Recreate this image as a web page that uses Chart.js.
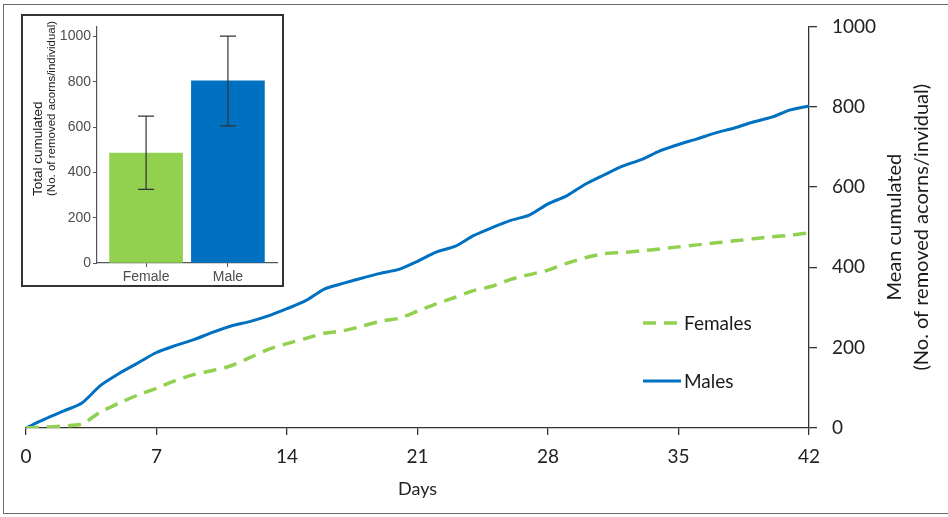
<!DOCTYPE html>
<html>
<head>
<meta charset="utf-8">
<script src="https://cdn.jsdelivr.net/npm/chart.js@4"></script>
<style>
html,body{margin:0;padding:0;background:#fff;overflow:hidden;}
#wrap{position:relative;width:948px;height:517px;}
#main{position:absolute;left:0;top:0;}
#frame{position:absolute;left:3px;top:4px;width:960px;height:510px;border:1.5px solid #6a6a6a;border-right:none;box-sizing:border-box;pointer-events:none;}
#insetBox{position:absolute;left:21px;top:14px;width:263px;height:273px;border:2px solid #333;box-sizing:border-box;background:#fff;}
#inset{position:absolute;left:0;top:0;}
</style>
</head>
<body>
<div id="wrap">
<canvas id="main" width="948" height="517"></canvas>
<div id="frame"></div>
<div id="insetBox"><canvas id="inset" width="259" height="269"></canvas></div>
</div>
<script>
// main chart data
const days = [0,1,2,3,4,5,6,7,8,9,10,11,12,13,14,15,16,17,18,19,20,21,22,23,24,25,26,27,28,29,30,31,32,33,34,35,36,37,38,39,40,41,42];
const females = [0,2,5,10,40,62,82,99,118,133,143,155,175,196,210,223,236,242,253,266,273,291,309,325,342,353,370,382,393,410,424,434,437,441,446,451,456,461,466,471,476,480,486];
const males = [0,22,42,62,106,136,162,188,205,220,238,254,265,279,297,317,346,360,373,385,395,415,438,452,479,499,517,530,558,578,607,630,652,668,690,706,720,735,747,762,774,792,802];
const dayTicks = [0,7,14,21,28,35,42];
const seriesNames = ["Females","Males"];
const yTitleMain = ["Mean cumulated","(No. of removed acorns/invidual)"];

// inset data
const sexes = ["Female","Male"];
const totals = [485,805];
const errLow = [325,606];
const errHigh = [649,1002];
const yTitleInset = ["Total cumulated","(No. of removed acorns/individual)"];

const GREEN = "#92d050";
const BLUE = "#0070c0";
const mainFont = "Lato";

function pts(ys){
  return days.map((d,i)=>({x:d,y:ys[i]}));
}

const mainDecor = {
  id:"mainDecor",
  afterDraw(chart){
    const ctx = chart.ctx;
    const a = chart.chartArea;
    // y title, reading bottom to top
    ctx.save();
    ctx.fillStyle = "#1a1a1a";
    ctx.font = "20px " + mainFont;
    ctx.textAlign = "center";
    ctx.textBaseline = "middle";
    const cy = (a.top + a.bottom)/2;
    [86,113].forEach((dx,i)=>{
      ctx.save();
      ctx.translate(a.right + dx, cy);
      ctx.rotate(-Math.PI/2);
      ctx.fillText(yTitleMain[i],0,0);
      ctx.restore();
    });
    // legend
    const lx = a.left + 617;
    const rows = [323,381];
    chart.data.datasets.forEach((ds,i)=>{
      const y = rows[i];
      ctx.strokeStyle = ds.borderColor;
      ctx.lineWidth = ds.borderWidth;
      ctx.setLineDash(ds.borderDash || []);
      ctx.beginPath();
      ctx.moveTo(lx,y);
      ctx.lineTo(lx+38,y);
      ctx.stroke();
      ctx.setLineDash([]);
      ctx.fillStyle = "#1a1a1a";
      ctx.font = "19px " + mainFont;
      ctx.textAlign = "left";
      ctx.fillText(ds.label, lx+41, y+1);
    });
    ctx.restore();
  }
};

new Chart(document.getElementById("main"),{
  type:"line",
  data:{
    datasets:[
      {label:seriesNames[0],data:pts(females),borderColor:GREEN,borderWidth:3.5,borderDash:[13,8],pointRadius:0,tension:0.25,fill:false},
      {label:seriesNames[1],data:pts(males),borderColor:BLUE,borderWidth:3,pointRadius:0,tension:0.25,fill:false}
    ]
  },
  options:{
    responsive:false,
    animation:false,
    layout:{padding:{left:26,top:24,right:49,bottom:14}},
    plugins:{legend:{display:false},tooltip:{enabled:false}},
    scales:{
      x:{
        type:"linear",min:0,max:42,
        afterBuildTicks(s){s.ticks = dayTicks.map(v=>({value:v}));},
        afterFit(s){s.height = 75;},
        grid:{drawOnChartArea:false,drawTicks:true,tickLength:7,color:"#333",lineWidth:1.3},
        border:{color:"#333",width:1.3},
        ticks:{color:"#222",font:{family:mainFont,size:19},padding:10,maxRotation:0,callback:v=>String(v)},
        title:{display:true,text:"Days",color:"#222",font:{family:mainFont,size:18},padding:{top:4,bottom:3}}
      },
      y:{
        position:"right",min:0,max:1000,
        afterFit(s){s.width = 90;},
        grid:{drawOnChartArea:false,drawTicks:true,tickLength:8,color:"#333",lineWidth:1.3},
        border:{color:"#333",width:1.3},
        ticks:{stepSize:200,color:"#222",font:{family:mainFont,size:19},padding:15,callback:v=>String(v)}
      }
    }
  },
  plugins:[mainDecor]
});

// inset bar chart with error bars
const insetDecor = {
  id:"insetDecor",
  afterDatasetsDraw(chart){
    const ctx = chart.ctx;
    const xs = chart.scales.x, ys = chart.scales.y;
    ctx.save();
    ctx.strokeStyle = "#333";
    ctx.lineWidth = 1.2;
    totals.forEach((v,i)=>{
      const x = xs.getPixelForValue(i+1);
      const yl = ys.getPixelForValue(errLow[i]);
      const yh = ys.getPixelForValue(errHigh[i]);
      ctx.beginPath();
      ctx.moveTo(x,yl);ctx.lineTo(x,yh);
      ctx.moveTo(x-8,yl);ctx.lineTo(x+8,yl);
      ctx.moveTo(x-8,yh);ctx.lineTo(x+8,yh);
      ctx.stroke();
    });
    ctx.restore();
  },
  afterDraw(chart){
    const ctx = chart.ctx;
    ctx.save();
    ctx.fillStyle = "#1a1a1a";
    ctx.textAlign = "left";
    ctx.textBaseline = "middle";
    const sizes = [13.5,11.5];
    [15,29].forEach((x,i)=>{
      ctx.save();
      ctx.font = sizes[i] + "px 'Liberation Sans'";
      ctx.translate(x,180);
      ctx.rotate(-Math.PI/2);
      ctx.fillText(yTitleInset[i],0,0);
      ctx.restore();
    });
    ctx.restore();
  }
};

new Chart(document.getElementById("inset"),{
  type:"bar",
  data:{
    datasets:[{
      data:sexes.map((s,i)=>({x:i+1,y:totals[i]})),
      backgroundColor:[GREEN,BLUE],
      barThickness:73
    }]
  },
  options:{
    responsive:false,
    animation:false,
    layout:{padding:{left:0,top:6,right:5,bottom:0}},
    plugins:{legend:{display:false},tooltip:{enabled:false}},
    scales:{
      x:{
        type:"linear",min:0.4,max:2.6,offset:false,
        afterBuildTicks(s){s.ticks = sexes.map((c,i)=>({value:i+1}));},
        afterFit(s){s.height = 22;},
        grid:{offset:false,drawOnChartArea:false,drawTicks:true,tickLength:4,color:"#555",lineWidth:1},
        border:{color:"#555",width:1.2},
        ticks:{color:"#4d4d4d",font:{family:"Liberation Sans",size:14},padding:2,
          callback(v){return sexes[v-1];}}
      },
      y:{
        min:0,max:1045,
        afterFit(s){s.width = 74;},
        grid:{drawOnChartArea:false,drawTicks:true,tickLength:4,color:"#555",lineWidth:1},
        border:{color:"#555",width:1.2},
        ticks:{stepSize:200,includeBounds:false,color:"#4d4d4d",font:{family:"Liberation Sans",size:14},padding:2,callback:v=>String(v)}
      }
    }
  },
  plugins:[insetDecor]
});
</script>
</body>
</html>
